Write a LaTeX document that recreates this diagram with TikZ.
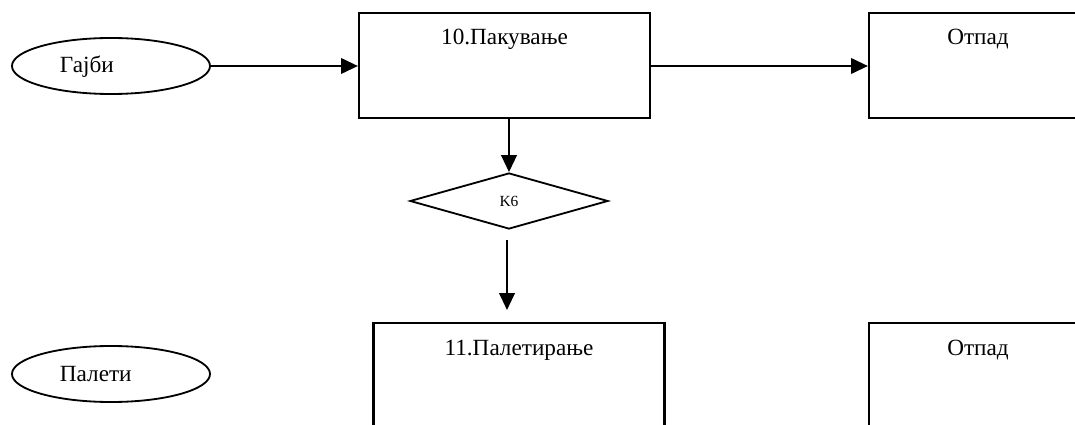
\documentclass[tikz,border=0pt]{standalone}
\usepackage{fontspec}
\setmainfont{Liberation Serif}
\usetikzlibrary{positioning,shapes.geometric,arrows.meta}

\begin{document}
\begin{tikzpicture}[x=0.025cm,y=-0.025cm,
  stepbox/.style={draw,line width=1.5pt,minimum width=7.275cm,minimum height=2.625cm,inner sep=0pt},
  wastebox/.style={stepbox,minimum width=5.45cm},
  input/.style={draw,ellipse,line width=1.3pt,minimum width=4.95cm,minimum height=1.4cm,inner sep=0pt},
  check/.style={draw,diamond,line width=1.3pt,minimum width=4.95cm,minimum height=1.4cm,inner sep=0pt,font=\fontsize{11}{13}\selectfont},
  title/.style={anchor=base,font=\fontsize{16.5}{19}\selectfont},
  flow/.style={line width=1.6pt,-{Triangle[length=12pt,width=11pt]}}]
\clip (0,0) rectangle (1075,425);

% upper row
\node[input] (crates) at (111,66) {};
\node[title,anchor=base west] (cratestxt) at (55,73) {Гајби};
\node[stepbox] (pack) at (504.5,65.5) {};
\node[title] (packtxt) at (504.5,45) {10.Пакување};
\node[wastebox] (waste) at (978,65.5) {};
\node[title] (wastetxt) at (978,45) {Отпад};

% control point
\node[check] (kk) at (509,201) {K6};
\coordinate (kkout) at (507,240);
\coordinate (palin) at (507,310);

% lower row
\node[input] (pallets) at (111,374) {};
\node[title,anchor=base west] (palletstxt) at (55,381) {Палети};
\node[stepbox] (pal) at (519,375.5) {};
\node[title] (paltxt) at (519,355) {11.Палетирање};
\node[wastebox] (waste2) at (978,375.5) {};
\node[title] (waste2txt) at (978,355) {Отпад};

\draw[flow] (crates.east) -- (crates.east -| pack.west);
\draw[flow] (pack.east |- crates.east) -- (waste.west |- crates.east);
\draw[flow] (pack.south -| kk.north) -- (kk.north);
\draw[flow] (kkout) -- (palin);
\end{tikzpicture}
\end{document}
